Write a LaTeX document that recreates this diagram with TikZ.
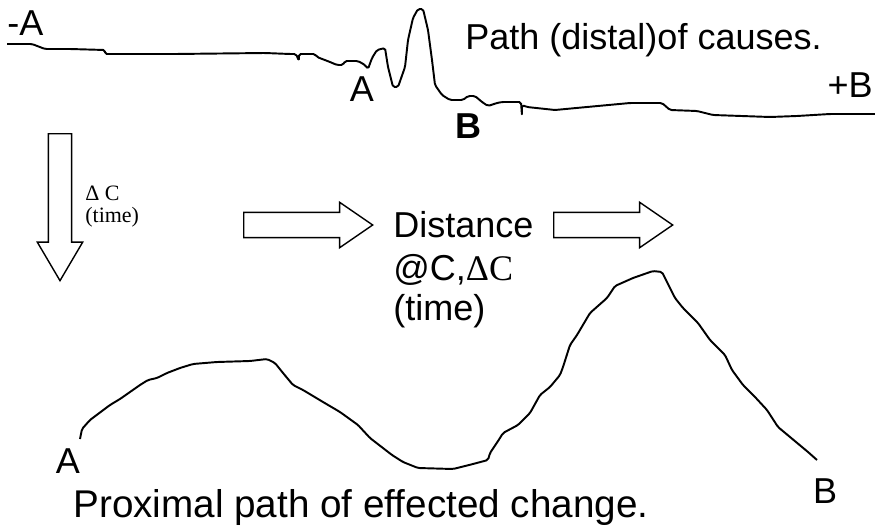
\documentclass[tikz,border=0pt]{standalone}
\usepackage{fontspec}
\setmainfont{Liberation Sans}
\newfontfamily\timesfont{Liberation Serif}
\usepackage{tikz}
\usetikzlibrary{shapes.arrows}

\begin{document}
\begin{tikzpicture}[
          x=0.02cm,y=-0.02cm,
          lbl/.style={anchor=base west,inner sep=0pt,font=\fontsize{20.5pt}{24pt}\selectfont},
          smalllbl/.style={anchor=base west,inner sep=0pt,font=\timesfont\fontsize{12.5pt}{14pt}\selectfont},
          trace/.style={line width=1.1pt,line join=round,rounded corners=1pt},
          blockarrow/.style={single arrow,draw,line width=0.8pt,inner xsep=0pt,anchor=tail}
          ]
          \useasboundingbox (0,0) rectangle (875,527);

          % the distal path, from -A to +B
          \draw[trace] (7,44) -- (32,44) -- (45,49) -- (70,49) -- (105,50) -- (105,54)
            -- (175,54) -- (265,53) -- (290,54) -- (296,54) -- (299,61) -- (299,54)
            -- (315,54) -- (317,57) -- (330,62) -- (337,65) -- (343,65) -- (345,61)
            -- (358,61) -- (365,65) -- (368,69) -- (372,58) -- (377,50) -- (385,48)
            -- (388,67) -- (393,87) -- (398,87) -- (405,67) -- (408,40) -- (413,18)
            -- (418,9) -- (423,9) -- (428,30) -- (432,60) -- (435,85) -- (442,95)
            -- (450,100) -- (463,100) -- (468,96) -- (475,96) -- (482,102) -- (488,106)
            -- (497,103) -- (502,102) -- (521,102) -- (522,116) -- (522,105)
            -- (527,107) -- (555,110) -- (587,107) -- (630,103) -- (662,103)
            -- (670,110) -- (697,111) -- (713,115) -- (770,117) -- (797,116)
            -- (830,114) -- (875,114);

          % labels of the distal path
          \node[lbl] (negA) at (7,36) {-A};
          \node[lbl] (title) at (465,50) {Path (distal)of causes.};
          \node[lbl,anchor=base] (midA) at (362,102) {A};
          \node[lbl,anchor=base,font=\fontsize{20.5pt}{24pt}\selectfont\bfseries] (midB) at (468,138) {B};
          \node[lbl,anchor=base east] (posB) at (873,97) {+B};

          % the down arrow and its text
          \node[blockarrow,rotate=-90,inner ysep=0.22cm,single arrow head extend=0.22cm,
                single arrow tip angle=61,minimum height=2.94cm] (down) at (60,133) {};
          \node[smalllbl] (dc1) at (85,200) {Δ C};
          \node[smalllbl] (dc2) at (85,222) {(time)};

          % the two right arrows
          \foreach \i/\tailx/\len in {1/243/2.58cm,2/553/2.38cm}
            \node[blockarrow,inner ysep=0.24cm,single arrow head extend=0.2cm,
                  single arrow tip angle=69,minimum height=\len] (right\i) at (\tailx,225) {};

          % the text between them
          \foreach \i/\yb/\txt in {1/237/Distance,2/280/{@C,{\timesfont ΔC}},3/320/(time)}
            \node[lbl] (dist\i) at (393,\yb) {\txt};

          % the proximal path, from A to B
          \draw[trace] (80,439) -- (82,429) -- (90,420) -- (102,411) -- (110,405)
            -- (120,399) -- (130,392) -- (140,385) -- (148,380) -- (157,378)
            -- (167,373) -- (180,368) -- (193,364) -- (217,362) -- (250,361)
            -- (267,359) -- (275,363) -- (283,373) -- (293,385) -- (303,390)
            -- (323,402) -- (340,412) -- (358,425) -- (370,438) -- (392,455)
            -- (403,462) -- (418,468) -- (453,469) -- (473,464) -- (488,460)
            -- (490,453) -- (500,438) -- (503,433) -- (518,425) -- (530,413)
            -- (540,395) -- (550,387) -- (560,375) -- (563,367) -- (570,345)
            -- (577,335) -- (590,313) -- (607,298) -- (615,286) -- (633,278)
            -- (653,271) -- (662,272) -- (667,282) -- (675,298) -- (683,308)
            -- (698,323) -- (710,340) -- (725,355) -- (732,370) -- (743,385)
            -- (755,397) -- (767,410) -- (778,427) -- (790,437) -- (808,452)
            -- (817,460);

          % labels of the proximal path
          \node[lbl,anchor=base] (botA) at (68,473) {A};
          \node[lbl,anchor=base] (botB) at (825,503) {B};
          \node[lbl,font=\fontsize{22pt}{24pt}\selectfont] (prox) at (73,517) {Proximal path of effected change.};
        \end{tikzpicture}
\end{document}
